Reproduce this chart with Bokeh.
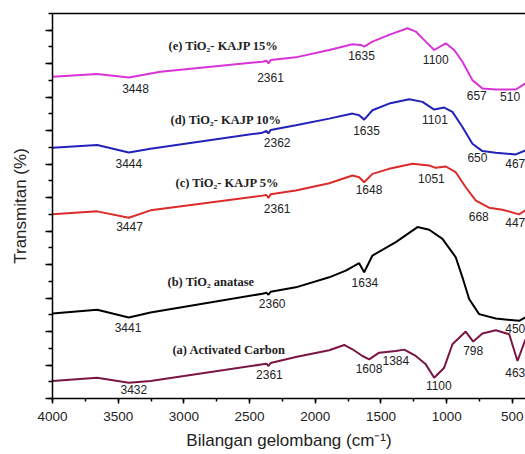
from bokeh.plotting import figure
from bokeh.models import SingleIntervalTicker, Range1d, LinearAxis, CustomJSTickFormatter
from bokeh.core.properties import value
from bokeh.embed import file_html
from bokeh.resources import INLINE

# ---- data (wavenumber cm-1, arbitrary offset transmittance) ----
wn_a = [4000, 3660, 3419, 3254, 2402, 2372, 2356, 2340, 2148, 1894, 1780, 1717, 1641, 1590, 1514,
        1387, 1323, 1235, 1159, 1095, 1019, 956, 855, 798, 728, 626, 524, 461, 400]
tr_a = [5.2, 6.2, 4.7, 5.2, 10.2, 10.4, 9.7, 10.6, 12.4, 14.4, 16.0, 14.7, 12.7, 11.7, 13.7,
        14.2, 14.6, 12.7, 10.2, 6.2, 9.2, 16.2, 20.0, 17.0, 19.4, 20.4, 19.2, 11.2, 17.7]

wn_b = [4000, 3660, 3419, 3254, 2402, 2372, 2356, 2340, 2148, 1894, 1768, 1666, 1628, 1565, 1387,
        1222, 1133, 1032, 931, 880, 829, 753, 626, 449, 400]
tr_b = [25.4, 26.5, 24.2, 25.7, 31.3, 31.6, 31.0, 31.9, 33.2, 36.2, 38.2, 40.4, 37.7, 42.7, 46.7,
        51.2, 50.4, 47.7, 42.2, 36.2, 29.7, 25.2, 23.9, 23.2, 24.2]

wn_c = [4000, 3660, 3419, 3254, 3077, 2402, 2372, 2356, 2340, 2148, 1894, 1717, 1666, 1628, 1565,
        1438, 1260, 1133, 1083, 1007, 931, 855, 778, 677, 575, 449, 400]
tr_c = [55.0, 55.9, 54.0, 56.2, 57.1, 60.6, 60.8, 59.9, 61.0, 62.1, 64.3, 66.6, 66.1, 64.6, 67.1,
        68.6, 70.1, 69.6, 68.9, 69.3, 67.6, 63.1, 59.1, 57.0, 56.4, 55.0, 56.2]

wn_d = [4000, 3660, 3419, 3254, 2402, 2372, 2356, 2340, 2148, 1894, 1717, 1666, 1628, 1565, 1438,
        1285, 1184, 1095, 1019, 956, 880, 804, 728, 626, 474, 400]
tr_d = [74.9, 75.7, 73.5, 74.6, 79.4, 79.9, 79.2, 80.2, 81.6, 83.6, 85.1, 84.6, 83.3, 86.1, 88.1,
        89.4, 88.6, 86.3, 86.9, 85.6, 81.1, 76.1, 73.9, 73.4, 72.9, 74.1]

wn_e = [4000, 3660, 3419, 3178, 2402, 2372, 2356, 2340, 2148, 1894, 1717, 1654, 1628, 1565, 1438,
        1298, 1235, 1159, 1095, 1007, 943, 880, 804, 728, 626, 474, 400]
tr_e = [96.1, 96.9, 95.9, 97.6, 100.6, 100.9, 100.1, 101.1, 101.9, 104.1, 105.8, 105.6, 105.1, 106.6, 108.6,
        110.6, 109.6, 106.6, 104.1, 106.1, 104.1, 100.6, 95.1, 92.6, 92.3, 92.3, 94.1]

# peak annotations (centred)
peak_text = ["3448", "2361", "1635", "1100", "657", "510",
             "3444", "2362", "1635", "1101", "650",
             "3447", "2361", "1648", "1051", "668",
             "3441", "2360", "1634",
             "3432", "2361", "1608", "1384", "1100", "798"]
peak_x = [3368, 2341, 1648, 1083, 771, 517,
          3419, 2290, 1610, 1089, 766,
          3414, 2290, 1591, 1116, 756,
          3425, 2328, 1622,
          3381, 2349, 1591, 1387, 1060, 798]
peak_y = [92.6, 95.8, 102.6, 101.4, 90.6, 90.3,
          70.1, 76.4, 80.1, 83.3, 72.1,
          51.3, 56.8, 62.4, 65.6, 54.4,
          21.2, 28.4, 34.7,
          2.8, 7.2, 8.9, 11.4, 4.0, 14.2]

# peak annotations at the right edge (right-aligned)
edge_text = ["467", "447", "450", "463"]
edge_x = [402, 402, 402, 402]
edge_y = [70.1, 52.7, 21.0, 7.7]

# series labels
series_text = ["(e)  TiO\u2082- KAJP 15%", "(d) TiO\u2082- KAJP 10%", "(c)   TiO\u2082- KAJP 5%",
               "(b)  TiO\u2082 anatase", "(a) Activated Carbon"]
series_x = [3117, 3102, 3064, 3125, 3087]
series_y = [105.3, 83.3, 64.3, 34.7, 14.4]

p = figure(width=525, height=454, output_backend="svg", toolbar_location=None,
           x_range=Range1d(4000, 400), y_range=Range1d(0, 115),
           min_border_left=52, min_border_right=0, min_border_top=13, min_border_bottom=56)
p.grid.visible = False
p.background_fill_color = "white"
p.border_fill_color = "white"
p.outline_line_color = None

xb = p.below[0]
yl = p.left[0]

lw = 2
p.line(wn_a, tr_a, line_color="#7a1545", line_width=lw)
p.line(wn_b, tr_b, line_color="black", line_width=lw)
p.line(wn_c, tr_c, line_color="#dd2a2a", line_width=lw)
p.line(wn_d, tr_d, line_color="#2222bb", line_width=lw)
p.line(wn_e, tr_e, line_color="#d833d8", line_width=lw)

p.text(peak_x, peak_y, text=peak_text, text_font=value("Liberation Sans"),
       text_font_size="12px", text_color="#222222", text_align="center", text_baseline="middle")
p.text(edge_x, edge_y, text=edge_text, text_font=value("Liberation Sans"),
       text_font_size="12px", text_color="#222222", text_align="right", text_baseline="middle")
p.text(series_x, series_y, text=series_text, text_font=value("Liberation Serif"),
       text_font_style="bold", text_font_size="12.5px", text_color="#222222",
       text_align="left", text_baseline="middle")

blank = CustomJSTickFormatter(code="return '';")

# axes
xb.ticker = SingleIntervalTicker(interval=500, num_minor_ticks=2)
yl.ticker = SingleIntervalTicker(interval=10, num_minor_ticks=2)
for ax in (xb, yl):
    ax.axis_line_width = 1.5
    ax.major_tick_line_width = 1.5
    ax.minor_tick_line_width = 1.5
    ax.major_tick_in = 0
    ax.minor_tick_in = 0
    ax.axis_label_text_font = "Liberation Sans"
    ax.axis_label_text_font_style = "normal"
    ax.axis_label_text_font_size = "17px"
    ax.axis_label_text_color = "#222222"
    ax.major_label_text_font = "Liberation Sans"
    ax.major_label_text_font_size = "13.5px"
    ax.major_label_text_color = "#222222"

xb.major_tick_out = 5
xb.minor_tick_out = 3
xb.major_label_standoff = 8
xb.axis_label = "Bilangan gelombang (cm\u207b\u00b9)"
xb.axis_label_standoff = 7

yl.major_tick_out = 7
yl.minor_tick_out = 4
yl.formatter = blank
yl.major_label_standoff = 0
yl.axis_label = "Transmitan (%)"
yl.axis_label_standoff = 16

# top frame line
top = LinearAxis(formatter=blank, major_tick_line_color=None, minor_tick_line_color=None,
                 major_label_standoff=0, axis_line_width=1.5)
p.add_layout(top, "above")

open("out.html", "w").write(file_html(p, INLINE))
